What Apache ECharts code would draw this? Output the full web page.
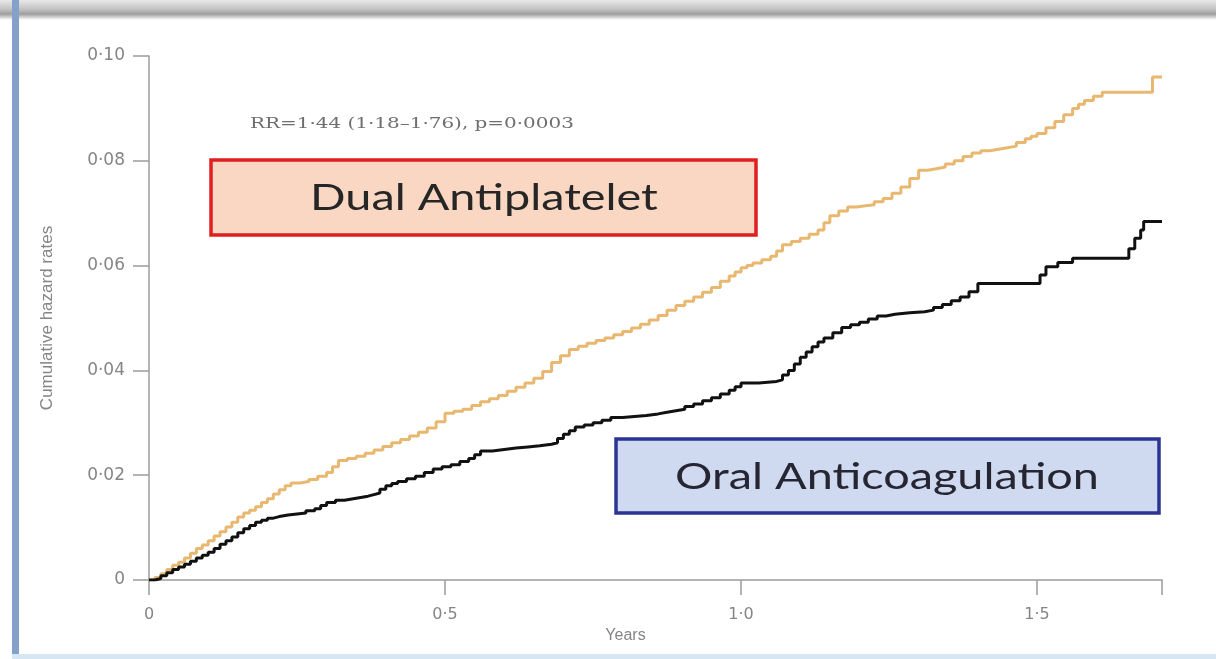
<!DOCTYPE html>
<html>
<head>
<meta charset="utf-8">
<title>Cumulative hazard rates</title>
<script src="https://cdn.jsdelivr.net/npm/echarts@6/dist/echarts.min.js"></script>
<style>
  html, body { margin: 0; padding: 0; background: #ffffff; }
  #chart { width: 1216px; height: 659px; }
</style>
</head>
<body>
<div id="chart"></div>
<script>
// Cumulative hazard (step curves) by treatment arm, time in years
const dualAntiplatelet = [
  [0, 0], [0.01, 0.0005], [0.02, 0.0012], [0.03, 0.0020], [0.04, 0.0028],
  [0.05, 0.0034], [0.06, 0.0042], [0.07, 0.0051], [0.08, 0.0060], [0.09, 0.0067],
  [0.10, 0.0075], [0.11, 0.0084], [0.12, 0.0092], [0.13, 0.0101], [0.14, 0.0110],
  [0.15, 0.0120], [0.16, 0.0128], [0.17, 0.0133], [0.18, 0.0140], [0.19, 0.0148],
  [0.20, 0.0155], [0.21, 0.0164], [0.22, 0.0172], [0.23, 0.0180], [0.24, 0.0185],
  [0.255, 0.0188], [0.27, 0.0192], [0.285, 0.0198], [0.30, 0.0205], [0.31, 0.0216],
  [0.32, 0.0228], [0.335, 0.0232], [0.35, 0.0236], [0.365, 0.0242], [0.38, 0.0248],
  [0.395, 0.0255], [0.41, 0.0262], [0.425, 0.0268], [0.44, 0.0275], [0.455, 0.0282],
  [0.47, 0.0290], [0.485, 0.0302], [0.50, 0.0318], [0.515, 0.0322], [0.53, 0.0326],
  [0.545, 0.0333], [0.56, 0.0340], [0.575, 0.0346], [0.59, 0.0352], [0.605, 0.0360],
  [0.62, 0.0368], [0.635, 0.0376], [0.65, 0.0385], [0.665, 0.0398], [0.68, 0.0415],
  [0.695, 0.0428], [0.71, 0.0440], [0.725, 0.0446], [0.74, 0.0452], [0.755, 0.0457],
  [0.77, 0.0462], [0.785, 0.0468], [0.80, 0.0474], [0.815, 0.0481], [0.83, 0.0488],
  [0.845, 0.0496], [0.86, 0.0505], [0.875, 0.0515], [0.89, 0.0524], [0.905, 0.0532],
  [0.92, 0.0540], [0.935, 0.0549], [0.95, 0.0558], [0.965, 0.0570], [0.98, 0.0580],
  [0.99, 0.0588], [1.00, 0.0596], [1.01, 0.0600], [1.02, 0.0605], [1.035, 0.0611],
  [1.05, 0.0618], [1.06, 0.0628], [1.07, 0.0640], [1.085, 0.0646], [1.10, 0.0652],
  [1.115, 0.0660], [1.13, 0.0668], [1.14, 0.0682], [1.15, 0.0695], [1.165, 0.0704],
  [1.18, 0.0712], [1.195, 0.0714], [1.21, 0.0716], [1.225, 0.0722], [1.24, 0.0728],
  [1.255, 0.0738], [1.27, 0.0750], [1.285, 0.0766], [1.30, 0.0782], [1.315, 0.0785],
  [1.33, 0.0788], [1.345, 0.0794], [1.36, 0.0800], [1.375, 0.0808], [1.39, 0.0815],
  [1.405, 0.0819], [1.42, 0.0822], [1.435, 0.0825], [1.45, 0.0828], [1.465, 0.0835],
  [1.48, 0.0842], [1.49, 0.0847], [1.50, 0.0852], [1.515, 0.0863], [1.53, 0.0875],
  [1.545, 0.0888], [1.56, 0.0900], [1.57, 0.0908], [1.58, 0.0915], [1.595, 0.0923],
  [1.61, 0.0931], [1.695, 0.0960], [1.711, 0.0960]
];

const oralAnticoagulation = [
  [0, 0], [0.01, 0.0003], [0.02, 0.0008], [0.03, 0.0014], [0.04, 0.0020],
  [0.05, 0.0025], [0.06, 0.0030], [0.07, 0.0036], [0.08, 0.0042], [0.09, 0.0047],
  [0.10, 0.0053], [0.11, 0.0060], [0.12, 0.0068], [0.13, 0.0075], [0.14, 0.0082],
  [0.15, 0.0090], [0.16, 0.0098], [0.17, 0.0104], [0.18, 0.0110], [0.19, 0.0114],
  [0.20, 0.0118], [0.21, 0.0121], [0.22, 0.0124], [0.235, 0.0126], [0.25, 0.0128],
  [0.265, 0.0132], [0.28, 0.0136], [0.29, 0.0142], [0.30, 0.0148], [0.315, 0.0152],
  [0.33, 0.0155], [0.345, 0.0158], [0.36, 0.0160], [0.37, 0.0163], [0.38, 0.0166],
  [0.39, 0.0173], [0.40, 0.0180], [0.41, 0.0184], [0.42, 0.0188], [0.435, 0.0193],
  [0.45, 0.0198], [0.465, 0.0205], [0.48, 0.0212], [0.495, 0.0216], [0.51, 0.0220],
  [0.525, 0.0226], [0.54, 0.0232], [0.55, 0.0239], [0.56, 0.0246], [0.58, 0.0249],
  [0.60, 0.0252], [0.62, 0.0254], [0.64, 0.0256], [0.66, 0.0259], [0.68, 0.0262],
  [0.69, 0.0270], [0.70, 0.0278], [0.71, 0.0285], [0.72, 0.0292], [0.735, 0.0296],
  [0.75, 0.0300], [0.765, 0.0305], [0.78, 0.0310], [0.80, 0.0312], [0.82, 0.0314],
  [0.84, 0.0317], [0.86, 0.0320], [0.875, 0.0323], [0.89, 0.0326], [0.905, 0.0331],
  [0.92, 0.0336], [0.935, 0.0342], [0.95, 0.0348], [0.965, 0.0355], [0.98, 0.0362],
  [0.99, 0.0369], [1.00, 0.0376], [1.03, 0.0379], [1.06, 0.0382], [1.07, 0.0391],
  [1.08, 0.0400], [1.09, 0.0412], [1.10, 0.0425], [1.11, 0.0435], [1.12, 0.0445],
  [1.13, 0.0454], [1.14, 0.0462], [1.155, 0.0472], [1.17, 0.0482], [1.185, 0.0487],
  [1.20, 0.0492], [1.215, 0.0498], [1.23, 0.0504], [1.245, 0.0507], [1.26, 0.0510],
  [1.285, 0.0512], [1.31, 0.0515], [1.325, 0.0520], [1.34, 0.0526], [1.355, 0.0533],
  [1.37, 0.0540], [1.385, 0.0550], [1.40, 0.0566], [1.505, 0.0582], [1.515, 0.0598],
  [1.535, 0.0606], [1.56, 0.0614], [1.655, 0.0632], [1.665, 0.0652], [1.675, 0.0668],
  [1.68, 0.0684], [1.711, 0.0684]
];

const xTicks = [0, 0.5, 1.0, 1.5];
const xTickLabels = ['0', '0·5', '1·0', '1·5'];
const yTickLabels = ['0', '0·02', '0·04', '0·06', '0·08', '0·10'];

const statText = 'RR=1·44 (1·18–1·76), p=0·0003';
const armLabels = ['Dual Antiplatelet', 'Oral Anticoagulation'];

const axisGrey = '#9c9c9c';
const labelGrey = '#858585';

const chart = echarts.init(document.getElementById('chart'), null, { renderer: 'canvas' });

chart.setOption({
  backgroundColor: '#ffffff',
  animation: false,
  grid: { left: 149, right: 54, top: 56, bottom: 79, containLabel: false },
  xAxis: {
    type: 'value',
    min: 0,
    max: 1.711,
    interval: 0.5,
    name: 'Years',
    nameLocation: 'middle',
    nameGap: 48,
    nameTextStyle: {
      color: labelGrey, fontSize: 16,
      fontFamily: 'Liberation Sans Narrow, Liberation Sans',
      padding: [0, 60, 0, 0]
    },
    splitLine: { show: false },
    axisLine: { lineStyle: { color: axisGrey, width: 1.5 } },
    axisTick: { length: 15, lineStyle: { color: axisGrey, width: 1.5 } },
    axisLabel: {
      color: labelGrey,
      fontSize: 16,
      fontFamily: 'DejaVu Sans',
      margin: 27,
      formatter: function (v) {
        const i = xTicks.findIndex(t => Math.abs(t - v) < 1e-9);
        return i >= 0 ? xTickLabels[i] : '';
      }
    }
  },
  yAxis: {
    type: 'value',
    min: 0,
    max: 0.10,
    interval: 0.02,
    name: 'Cumulative hazard rates',
    nameLocation: 'middle',
    nameGap: 93,
    nameRotate: 90,
    nameTextStyle: { color: labelGrey, fontSize: 17, fontFamily: 'Liberation Sans Narrow, Liberation Sans' },
    splitLine: { show: false },
    axisLine: { show: true, lineStyle: { color: axisGrey, width: 1.5 } },
    axisTick: { show: true, length: 16, lineStyle: { color: axisGrey, width: 1.5 } },
    axisLabel: {
      color: labelGrey,
      fontSize: 17,
      fontFamily: 'DejaVu Sans',
      margin: 24,
      formatter: function (v) {
        return yTickLabels[Math.round(v / 0.02)];
      }
    }
  },
  series: [
    {
      name: armLabels[0],
      type: 'line',
      step: 'end',
      showSymbol: false,
      data: dualAntiplatelet,
      lineStyle: { color: '#e8b870', width: 3 },
      z: 3
    },
    {
      name: armLabels[1],
      type: 'line',
      step: 'end',
      showSymbol: false,
      data: oralAnticoagulation,
      lineStyle: { color: '#111111', width: 3 },
      z: 4
    }
  ],
  graphic: [
    // slide frame: shaded top edge, blue left rule, pale bottom rule
    {
      type: 'rect', silent: true, z: 0,
      shape: { x: 0, y: 0, width: 1216, height: 20 },
      style: {
        fill: new echarts.graphic.LinearGradient(0, 0, 0, 1, [
          { offset: 0, color: '#e8e8e8' },
          { offset: 0.45, color: '#c4c4c4' },
          { offset: 0.7, color: '#9e9e9e' },
          { offset: 1, color: '#ffffff' }
        ])
      }
    },
    {
      type: 'rect', silent: true, z: 0,
      shape: { x: 12, y: 0, width: 7, height: 659 },
      style: { fill: '#86a0cc' }
    },
    {
      type: 'rect', silent: true, z: 0,
      shape: { x: 12, y: 654, width: 1204, height: 5 },
      style: { fill: '#d7e6f3' }
    },
    {
      type: 'text', silent: true, z: 10,
      x: 250, y: 124, scaleX: 1.33,
      style: {
        text: statText, fill: '#6e6e6e', font: '15px "DejaVu Serif"',
        textAlign: 'left', textVerticalAlign: 'middle'
      }
    },
    {
      type: 'group', z: 10,
      children: [
        {
          type: 'rect',
          shape: { x: 211, y: 160, width: 545, height: 75 },
          style: { fill: '#f9d7c2', stroke: '#e01f1f', lineWidth: 3.5 }
        },
        {
          type: 'text',
          x: 484, y: 198, scaleX: 1.3,
          style: {
            text: armLabels[0], fill: '#262626', font: '36px Lato',
            textAlign: 'center', textVerticalAlign: 'middle'
          }
        }
      ]
    },
    {
      type: 'group', z: 10,
      children: [
        {
          type: 'rect',
          shape: { x: 616, y: 439, width: 543, height: 74 },
          style: { fill: '#cfdaf1', stroke: '#2d3592', lineWidth: 3.5 }
        },
        {
          type: 'text',
          x: 887, y: 477, scaleX: 1.3,
          style: {
            text: armLabels[1], fill: '#262633', font: '36px Lato',
            textAlign: 'center', textVerticalAlign: 'middle'
          }
        }
      ]
    }
  ]
});
</script>
</body>
</html>
